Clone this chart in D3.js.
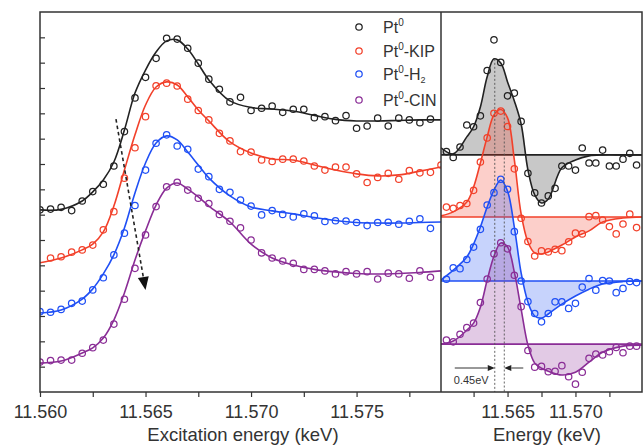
<!DOCTYPE html>
<html>
<head>
<meta charset="utf-8">
<script src="https://cdn.jsdelivr.net/npm/d3@7"></script>
<style>
  body { margin: 0; background: #fff; }
  text { font-family: Arial, "Liberation Sans", sans-serif; fill: #333; }
</style>
</head>
<body>
<svg id="chart" width="643" height="445"></svg>
<script>
// ---- data (intensity in arbitrary units, energy in keV) ----
var seriesNames = ["Pt0", "Pt0-KIP", "Pt0-H2", "Pt0-CIN"];
var seriesColors = ["#222222", "#f2402a", "#1f4ff5", "#8a2d96"];

// XANES spectra (left panel)
var energy = [11.5600,11.5605,11.5610,11.5615,11.5620,11.5625,11.5630,11.5635,11.5640,11.5645,
              11.5650,11.5655,11.5660,11.5665,11.5670,11.5675,11.5680,11.5685,11.5690,11.5695,
              11.5700,11.5705,11.5710,11.5715,11.5720,11.5725,11.5730,11.5735,11.5740,11.5745,
              11.5750,11.5755,11.5760,11.5765,11.5770,11.5775,11.5780,11.5785,11.5790];
var pt0 = [7.19,7.22,7.29,7.16,7.54,7.91,8.20,8.92,10.28,11.61,12.42,13.17,13.96,13.93,13.57,12.98,12.35,11.95,11.45,11.63,
           11.11,11.20,11.29,11.04,11.16,11.16,10.83,10.87,10.71,10.91,10.41,10.50,10.81,10.50,10.81,10.74,10.63,10.77,null];
var ptKIP = [null,5.29,5.34,5.52,5.61,5.80,6.40,7.12,8.44,9.64,10.87,12.09,12.19,12.08,11.56,11.11,10.74,10.21,9.91,9.49,
             9.47,9.16,9.10,9.19,9.19,9.12,8.92,8.76,8.88,8.88,8.61,8.27,8.47,8.63,8.40,8.74,8.65,8.67,8.96];
var ptH2 = [3.17,3.15,3.26,3.50,3.59,4.03,4.51,5.41,6.27,7.36,8.76,9.82,10.15,9.71,9.58,8.80,8.50,8.00,7.88,7.58,
            7.34,6.99,7.16,7.01,6.91,7.03,6.95,6.73,6.76,6.75,6.69,6.57,6.69,6.70,6.62,6.74,6.84,6.46,null];
var ptCIN = [1.18,1.24,1.26,1.26,1.53,1.75,2.05,2.68,3.66,4.88,6.20,7.32,8.10,8.28,7.97,7.65,7.44,7.01,6.74,6.48,
             6.00,5.49,5.29,5.17,5.08,4.84,4.84,4.78,4.66,4.75,4.66,4.75,4.46,4.69,4.66,4.49,4.78,4.53,null];

// fitted curves (left panel)
var fitEnergy = [11.5600,11.5610,11.5620,11.5625,11.5630,11.5635,11.5640,11.5645,11.5650,11.5655,11.5660,11.5665,11.5670,
                 11.5675,11.5680,11.5690,11.5700,11.5710,11.5720,11.5730,11.5740,11.5750,11.5760,11.5770,11.5780,11.5790];
var fitPt0 = [7.19,7.21,7.54,7.90,8.37,9.08,10.34,11.80,12.71,13.42,13.86,13.90,13.54,12.95,12.32,11.49,11.23,11.17,11.09,10.92,10.76,10.70,10.70,10.72,10.74,10.74];
var fitKIP = [5.10,5.29,5.61,5.84,6.32,7.34,8.76,10.15,11.33,12.04,12.24,12.12,11.65,11.13,10.70,9.87,9.43,9.20,9.16,8.96,8.76,8.61,8.53,8.57,8.72,8.88];
var fitH2 = [3.12,3.24,3.67,4.07,4.66,5.41,6.47,7.86,9.04,9.83,10.11,9.95,9.47,8.96,8.45,7.74,7.30,7.15,7.03,6.89,6.77,6.69,6.67,6.67,6.69,6.71];
var fitCIN = [1.14,1.22,1.54,1.74,2.13,2.84,3.91,5.21,6.36,7.38,8.05,8.25,8.01,7.70,7.34,6.71,5.84,5.29,5.01,4.84,4.74,4.68,4.66,4.68,4.72,4.78];

// difference spectra (right panel), relative to each baseline offset
var diffEnergy = [11.5605,11.5610,11.5615,11.5620,11.5625,11.5630,11.5635,11.5640,11.5645,11.5650,11.5655,11.5660,11.5665,11.5670,
                  11.5675,11.5680,11.5685,11.5690,11.5695,11.5700,11.5705,11.5710,11.5715,11.5720,11.5725,11.5730,11.5735,11.5740,11.5745];
var diffPt0 = [0.13,-0.10,0.31,1.18,1.11,1.54,3.33,4.54,3.65,2.33,2.44,1.32,-0.73,-1.50,-1.90,-1.62,-1.32,-0.44,-0.44,-0.60,0.27,-0.32,-0.32,0.19,-0.44,-0.44,-0.17,0.06,-0.40];
var diffKIP = [0.39,0.34,0.45,0.53,1.05,2.17,3.12,4.09,4.18,3.57,1.90,-0.05,-0.97,-1.54,-1.34,-1.38,-1.28,-1.33,-0.98,-0.64,-0.67,0.01,0.05,-0.12,-0.38,-0.67,-0.28,0.11,-0.42];
var diffH2 = [0.07,0.52,0.49,0.85,1.34,2.04,3.00,3.49,4.02,3.62,1.95,0.00,-0.81,-1.28,-1.61,-1.28,-0.82,-0.82,-1.08,-0.88,-0.24,0.10,-0.36,0.02,0.00,-0.46,-0.29,-0.02,-0.06];
var diffCIN = [0.16,0.09,0.39,0.65,0.83,1.64,2.57,3.56,4.00,3.76,2.72,1.48,-0.25,-0.91,-0.88,-1.09,-1.07,-0.85,-1.29,-1.58,-1.11,-0.56,-0.39,-0.43,-0.30,-0.13,-0.34,-0.08,-0.08];
var diffOffset = [9.36, 6.91, 4.38, 1.89];

var diffFitEnergy = [11.5601,11.5610,11.5620,11.5625,11.5630,11.5635,11.5640,11.5645,11.5650,11.5655,11.5660,
                     11.5665,11.5670,11.5675,11.5680,11.5690,11.5700,11.5710,11.5720,11.5735,11.5749];
var fitDiffPt0 = [0.28,0.04,0.71,1.11,1.89,3.08,3.79,3.63,2.88,2.13,1.22,-0.59,-1.58,-1.90,-1.74,-0.51,-0.20,-0.04,0,0,0];
var fitDiffKIP = [0.04,0.20,0.59,1.18,2.13,3.16,4.03,4.24,3.91,2.25,0.12,-0.99,-1.42,-1.46,-1.38,-1.11,-0.79,-0.55,-0.20,-0.04,0];
var fitDiffH2 = [0.04,0.43,0.95,1.46,2.13,2.92,3.59,3.99,3.55,2.13,0.32,-0.83,-1.38,-1.46,-1.30,-0.91,-0.59,-0.32,-0.12,-0.02,0];
var fitDiffCIN = [0,0.12,0.55,0.83,1.46,2.53,3.47,3.99,3.83,2.84,1.38,-0.04,-0.75,-0.95,-1.07,-1.22,-1.11,-0.71,-0.32,-0.08,-0.04];

// edge shift markers
var shiftEnergy = [11.56406, 11.56476];
var shiftLabel = "0.45eV";
var trendArrow = [[11.5636, 10.77], [11.5650, 4.03]];

var leftTicks = [11.560, 11.565, 11.570, 11.575];
var leftMinor = [11.5625, 11.5675, 11.5725, 11.5775];
var rightTicks = [11.565, 11.570];
var rightMinor = [11.5625, 11.5675, 11.5725];
var yTicks = [1,2,3,4,5,6,7,8,9,10,11,12,13,14];

// ---- layout ----
var svg = d3.select("#chart");
var yTop = 12, yBottom = 392, xLeft = 40, xSplit = 441, xRight = 642;

var xL = d3.scaleLinear().domain([11.560, 11.579]).range([xLeft, xSplit]);
var xR = d3.scaleLinear().domain([11.5601, 11.5749]).range([xSplit, xRight]);
var y = d3.scaleLinear().domain([0, 15]).range([yBottom, yTop]);

var defs = svg.append("defs");
defs.append("clipPath").attr("id", "clipL").append("rect")
    .attr("x", xLeft).attr("y", yTop).attr("width", xSplit - xLeft).attr("height", yBottom - yTop);
defs.append("clipPath").attr("id", "clipR").append("rect")
    .attr("x", xSplit).attr("y", yTop).attr("width", xRight - xSplit).attr("height", yBottom - yTop);

var spectra = [pt0, ptKIP, ptH2, ptCIN];
var fits = [fitPt0, fitKIP, fitH2, fitCIN];
var diffs = [diffPt0, diffKIP, diffH2, diffCIN];
var diffFits = [fitDiffPt0, fitDiffKIP, fitDiffH2, fitDiffCIN];
var smooth = d3.curveCatmullRom.alpha(0.5);

// left panel
var gL = svg.append("g").attr("clip-path", "url(#clipL)");
var lineL = d3.line()
    .x(function(d) { return xL(d[0]); })
    .y(function(d) { return y(d[1]); })
    .curve(smooth);

spectra.forEach(function(vals, s) {
  var fitPts = fitEnergy.map(function(e, i) { return [e, fits[s][i]]; });
  gL.append("path").datum(fitPts)
    .attr("d", lineL).attr("fill", "none")
    .attr("stroke", seriesColors[s]).attr("stroke-width", 1.6);
  var pts = energy.map(function(e, i) { return [e, vals[i]]; })
    .filter(function(d) { return d[1] != null; });
  gL.selectAll(null).data(pts).enter().append("circle")
    .attr("cx", function(d) { return xL(d[0]); })
    .attr("cy", function(d) { return y(d[1]); })
    .attr("r", 3.2).attr("fill", "none")
    .attr("stroke", seriesColors[s]).attr("stroke-width", 1.25);
});

// filled arrow head, returns the base point
function arrowHead(g, p0, p1, len, half, color) {
  var dx = p1[0] - p0[0], dy = p1[1] - p0[1];
  var L = Math.sqrt(dx * dx + dy * dy);
  var ux = dx / L, uy = dy / L;
  var bx = p1[0] - ux * len, by = p1[1] - uy * len;
  g.append("path")
    .attr("d", "M" + p1[0] + "," + p1[1] + "L" + (bx - uy * half) + "," + (by + ux * half) +
               "L" + (bx + uy * half) + "," + (by - ux * half) + "Z")
    .attr("fill", color);
  return [bx, by];
}

// dashed trend arrow
var a0 = [xL(trendArrow[0][0]), y(trendArrow[0][1])];
var a1 = [xL(trendArrow[1][0]), y(trendArrow[1][1])];
var ab = arrowHead(svg, a0, a1, 13, 5.5, "#111");
svg.append("line")
  .attr("x1", a0[0]).attr("y1", a0[1]).attr("x2", ab[0]).attr("y2", ab[1])
  .attr("stroke", "#222").attr("stroke-width", 1.6).attr("stroke-dasharray", "3.5,3");

// legend
var legend = svg.append("g");
var legendY = [27, 51, 74, 100];
seriesNames.forEach(function(name, s) {
  legend.append("circle").attr("cx", 359).attr("cy", legendY[s]).attr("r", 3.2)
    .attr("fill", "none").attr("stroke", seriesColors[s]).attr("stroke-width", 1.25);
  var t = legend.append("text").attr("x", 383).attr("y", legendY[s] + 6).style("font-size", "16px");
  t.append("tspan").text("Pt");
  t.append("tspan").attr("dy", -7).style("font-size", "10px").text("0");
  var rest = name.replace("Pt0", "");
  if (rest === "-H2") {
    t.append("tspan").attr("dy", 7).text("-H");
    t.append("tspan").attr("dy", 3).style("font-size", "9px").text("2");
  } else {
    t.append("tspan").attr("dy", 7).text(rest);
  }
});

// right panel
var gR = svg.append("g").attr("clip-path", "url(#clipR)");
var areaR = d3.area()
  .x(function(d) { return xR(d[0]); })
  .y0(function(d) { return y(d[2]); })
  .y1(function(d) { return y(d[1] + d[2]); })
  .curve(smooth);
var lineR = d3.line()
  .x(function(d) { return xR(d[0]); })
  .y(function(d) { return y(d[1] + d[2]); })
  .curve(smooth);

diffs.forEach(function(vals, s) {
  var off = diffOffset[s];
  var fitPts = diffFitEnergy.map(function(e, i) { return [e, diffFits[s][i], off]; });
  gR.append("path").datum(fitPts).attr("d", areaR)
    .attr("fill", seriesColors[s]).attr("fill-opacity", 0.25);
  gR.append("line")
    .attr("x1", xSplit).attr("x2", xRight).attr("y1", y(off)).attr("y2", y(off))
    .attr("stroke", seriesColors[s]).attr("stroke-width", 1.6);
  gR.append("path").datum(fitPts).attr("d", lineR)
    .attr("fill", "none").attr("stroke", seriesColors[s]).attr("stroke-width", 1.6);
  gR.selectAll(null).data(diffEnergy.map(function(e, i) { return [e, vals[i], off]; }))
    .enter().append("circle")
    .attr("cx", function(d) { return xR(d[0]); })
    .attr("cy", function(d) { return y(d[1] + d[2]); })
    .attr("r", 3.2).attr("fill", "none")
    .attr("stroke", seriesColors[s]).attr("stroke-width", 1.25);
});

// dotted edge-shift lines
var shiftTop = [diffOffset[0] + d3.max(fitDiffPt0), diffOffset[1] + d3.max(fitDiffKIP)];
shiftEnergy.forEach(function(e, i) {
  svg.append("line")
    .attr("x1", xR(e)).attr("x2", xR(e)).attr("y1", y(shiftTop[i])).attr("y2", yBottom)
    .attr("stroke", "#555").attr("stroke-width", 0.9).attr("stroke-dasharray", "2,2");
});
var sx0 = xR(shiftEnergy[0]), sx1 = xR(shiftEnergy[1]), sy = 368;
var hb0 = arrowHead(svg, [sx0 - 40, sy], [sx0, sy], 7, 3, "#222");
svg.append("line").attr("x1", sx0 - 40).attr("x2", hb0[0]).attr("y1", sy).attr("y2", sy)
  .attr("stroke", "#333").attr("stroke-width", 1);
var hb1 = arrowHead(svg, [sx1 + 19, sy], [sx1, sy], 7, 3, "#222");
svg.append("line").attr("x1", sx1 + 19).attr("x2", hb1[0]).attr("y1", sy).attr("y2", sy)
  .attr("stroke", "#333").attr("stroke-width", 1);
svg.append("text").attr("x", sx0 - 41).attr("y", 384)
  .style("font-size", "11px").text(shiftLabel);

// axes
var xAxisL = d3.axisBottom(xL).tickValues(leftTicks).tickSize(5).tickPadding(8)
  .tickFormat(d3.format(".3f"));
var xAxisLm = d3.axisBottom(xL).tickValues(leftMinor).tickSize(5).tickFormat("");
var xAxisR = d3.axisBottom(xR).tickValues(rightTicks).tickSize(5).tickPadding(8)
  .tickFormat(d3.format(".3f"));
var xAxisRm = d3.axisBottom(xR).tickValues(rightMinor).tickSize(5).tickFormat("");
var yAxis = d3.axisRight(y).tickValues(yTicks).tickSize(5).tickFormat("");

[xAxisL, xAxisLm, xAxisR, xAxisRm].forEach(function(ax) {
  var g = svg.append("g").attr("transform", "translate(0," + yBottom + ")").call(ax);
  g.select(".domain").remove();
  g.selectAll("line").attr("stroke", "#333").attr("stroke-width", 1.2);
  g.selectAll("text").style("font-size", "18px").style("font-family", "Arial, 'Liberation Sans', sans-serif")
    .attr("fill", "#333");
});
var gy = svg.append("g").attr("transform", "translate(" + xLeft + ",0)").call(yAxis);
gy.select(".domain").remove();
gy.selectAll("line").attr("stroke", "#333").attr("stroke-width", 1.2);

// frame
svg.append("rect").attr("x", xLeft).attr("y", yTop).attr("width", xRight - xLeft).attr("height", yBottom - yTop)
  .attr("fill", "none").attr("stroke", "#333").attr("stroke-width", 1.5);
svg.append("line").attr("x1", xSplit).attr("x2", xSplit).attr("y1", yTop).attr("y2", yBottom)
  .attr("stroke", "#333").attr("stroke-width", 1.5);

// axis titles
svg.append("text").attr("x", 243).attr("y", 441).attr("text-anchor", "middle")
  .style("font-size", "18.5px").text("Excitation energy (keV)");
svg.append("text").attr("x", 547).attr("y", 441).attr("text-anchor", "middle")
  .style("font-size", "18.5px").text("Energy (keV)");
</script>
</body>
</html>
